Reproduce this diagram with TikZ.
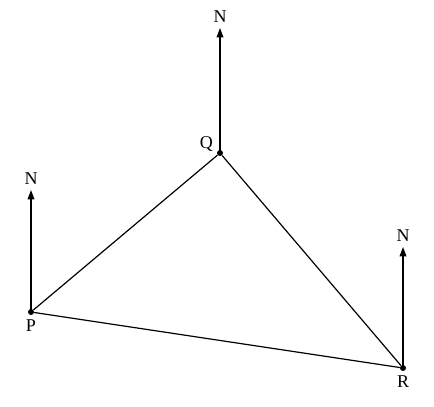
\documentclass[tikz,border=0pt]{standalone}
\usepackage{fontspec}
\setmainfont{Liberation Serif}
\usetikzlibrary{arrows.meta,positioning}

\begin{document}
\begin{tikzpicture}[x=0.75pt,y=-0.75pt,font=\fontsize{13.5}{15}\selectfont,
				pt/.style={circle,fill,inner sep=0pt,minimum size=4.5pt},
				north/.style={line width=1pt,-{Triangle[length=7pt,width=5pt]}}]
				\useasboundingbox (0,0) rectangle (434,406);
				\node[pt] (P) at (31,312) {};
				\node[pt] (Q) at (220,153) {};
				\node[pt] (R) at (403,368) {};
				\node[below=0pt of P] {P};
				\node[above left=-4pt and 0pt of Q] {Q};
				\node[below=0pt of R] {R};
				\draw[line width=0.9pt] (P) -- (Q) -- (R) -- (P);
				\coordinate (nP) at (31,190);
				\coordinate (nQ) at (220,28);
				\coordinate (nR) at (403,247);
				\foreach \a in {P,Q,R}
				\draw[north] (\a.center) -- (n\a) node[above=0pt]{N};
				\end{tikzpicture}
\end{document}
